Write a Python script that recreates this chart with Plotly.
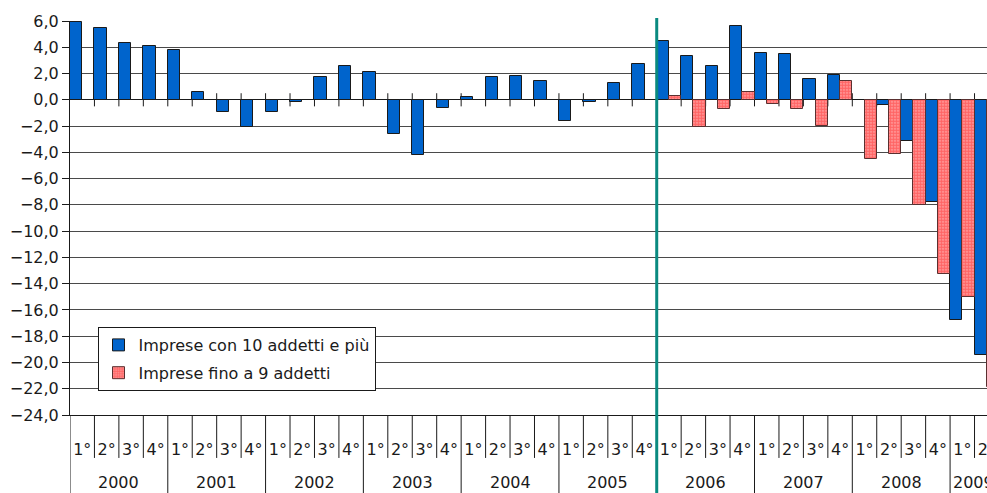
import plotly.graph_objects as go

years = ["2000", "2001", "2002", "2003", "2004", "2005", "2006", "2007", "2008", "2009"]
quarter_names = ["1°", "2°", "3°", "4°"]
n_quarters = 38  # 2000 Q1 .. 2009 Q2

imprese_10_piu = [5.9, 5.5, 4.3, 4.1, 3.8, 0.6, -0.9, -2.1, -0.9, -0.2, 1.7, 2.6,
                  2.1, -2.6, -4.2, -0.6, 0.2, 1.7, 1.8, 1.4, -1.6, -0.2, 1.3, 2.7,
                  4.5, 3.3, 2.6, 5.6, 3.6, 3.5, 1.6, 1.9, 0.0, -0.4, -3.1, -7.8,
                  -16.8, -19.4]
imprese_fino_9 = [None] * 24 + [0.3, -2.1, -0.7, 0.6, -0.3, -0.7, -2.0, 1.4,
                                -4.5, -4.1, -8.0, -13.3, -15.0, -21.9]

idx = list(range(n_quarters))
q_labels = [quarter_names[i % 4] for i in idx]

X0, X1 = -0.5, 37.01

FONT = "DejaVu Sans"
TXT = "#1a1a1a"

fig = go.Figure()
fig.add_trace(go.Bar(
    x=idx, y=imprese_10_piu, name="Imprese con 10 addetti e più",
    marker=dict(color="#0064CC", line=dict(color="#1a1a1a", width=1)),
    legendgroup="a",
))
fig.add_trace(go.Bar(
    x=idx, y=imprese_fino_9, name="Imprese fino a 9 addetti",
    marker=dict(color="#ff9c9c", line=dict(color="#5a3030", width=1),
                pattern=dict(shape=".", fgcolor="#ff2020", bgcolor="#ffaaaa",
                             size=3, solidity=0.75)),
    legendgroup="b",
))

shapes = []
# quarter dividers and year dividers below the plot area
for b in range(n_quarters + 1):
    xb = b - 0.5
    if b % 4 == 0:
        shapes.append(dict(type="line", xref="x", yref="paper", x0=xb, x1=xb,
                           y0=0, y1=-0.2, line=dict(color="#1a1a1a", width=1)))
    else:
        shapes.append(dict(type="line", xref="x", yref="paper", x0=xb, x1=xb,
                           y0=0, y1=-0.109, line=dict(color="#1a1a1a", width=1)))
    # cross ticks at the zero line
    if b > 0:
        shapes.append(dict(type="line", xref="x", yref="y", x0=xb, x1=xb,
                           y0=-0.5, y1=0.5, layer="below",
                           line=dict(color="#1a1a1a", width=1)))
# teal separator between 2005 and 2006
shapes.append(dict(type="line", xref="x", yref="paper", x0=23.5, x1=23.5,
                   y0=-0.2, y1=1.0076, line=dict(color="#0a8a80", width=3)))

annotations = []
for k, yr in enumerate(years):
    g0 = 4 * k - 0.5
    g1 = min(4 * k + 3.5, X1)
    xc = (g0 + g1) / 2 + (0.2 if g1 < 4 * k + 3.5 else 0)
    annotations.append(dict(x=(xc - X0) / (X1 - X0), y=-0.172, xref="paper", yref="paper",
                            text=yr, showarrow=False, xanchor="center", yanchor="middle",
                            font=dict(family=FONT, size=16, color=TXT)))

fig.update_layout(
    width=987, height=493,
    margin=dict(l=70, r=0, t=21, b=78, autoexpand=False),
    paper_bgcolor="white", plot_bgcolor="white",
    barmode="group", bargap=0, bargroupgap=0,
    separators=",.",
    font=dict(family=FONT, size=16, color=TXT),
    shapes=shapes, annotations=annotations,
    legend=dict(x=0.03, y=0.2234, xanchor="left", yanchor="top",
                bgcolor="white", bordercolor="#1a1a1a", borderwidth=1,
                font=dict(family=FONT, size=16, color=TXT),
                traceorder="grouped", tracegroupgap=4),
    xaxis=dict(range=[X0, X1], tickmode="array", tickvals=idx, ticktext=q_labels,
               ticks="outside", ticklen=20, tickcolor="rgba(0,0,0,0)",
               ticklabeloverflow="allow", automargin=False,
               showgrid=False, zeroline=False, showline=True, linecolor="#1a1a1a",
               tickfont=dict(family=FONT, size=16, color=TXT)),
    yaxis=dict(range=[-24, 6], dtick=2, tickformat=".1f", automargin=False,
               showgrid=True, gridcolor="#4a4a4a", gridwidth=1,
               zeroline=True, zerolinecolor="#1a1a1a", zerolinewidth=1,
               showline=True, linecolor="#1a1a1a", ticks="outside", ticklen=7,
               tickcolor="#1a1a1a",
               tickfont=dict(family=FONT, size=16, color=TXT)),
)

fig.write_html("out.html", config={"displayModeBar": False},
               post_script="document.body.style.margin='0';")
